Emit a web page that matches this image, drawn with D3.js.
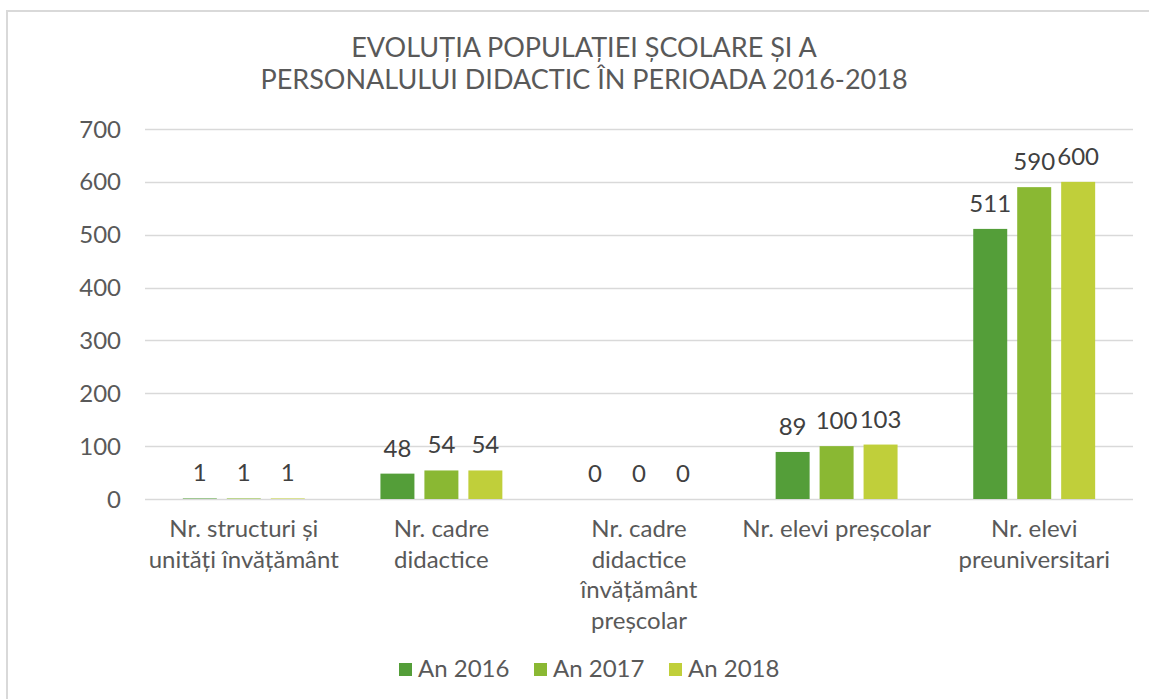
<!DOCTYPE html>
<html><head><meta charset="utf-8">
<script src="https://cdn.jsdelivr.net/npm/d3@7"></script>
<style>
html,body{margin:0;padding:0;background:#fff;}
svg{display:block;font-family:Lato,"Open Sans",sans-serif;}
</style></head>
<body>
<svg id="c" width="1149" height="699"></svg>
<script>
const categories = [
  ["Nr. structuri și","unități învățământ"],
  ["Nr. cadre","didactice"],
  ["Nr. cadre","didactice","învățământ","preșcolar"],
  ["Nr. elevi preșcolar"],
  ["Nr. elevi","preuniversitari"]
];
const seriesNames = ["An 2016","An 2017","An 2018"];
const an2016 = [1, 48, 0, 89, 511];
const an2017 = [1, 54, 0, 100, 590];
const an2018 = [1, 54, 0, 103, 600];
const yTicks = [0,100,200,300,400,500,600,700];
const colors = ["#549E39","#8AB833","#C0CF3A"];
const titleLines = ["EVOLUȚIA POPULAȚIEI ȘCOLARE ȘI A","PERSONALULUI DIDACTIC ÎN PERIOADA 2016-2018"];

(function(){
const series = [an2016, an2017, an2018];
const svg = d3.select("#c");

// border
svg.append("path").attr("d","M7,1200 V11 H1200").attr("fill","none").attr("stroke","#d9d9d9").attr("stroke-width",2);

const pLeft=145, pRight=1133, pTop=129, pBottom=499;
const y = d3.scaleLinear().domain([0,700]).range([pBottom,pTop]);
const x0 = d3.scaleBand().domain(d3.range(categories.length)).range([pLeft,pRight]).padding(0);
const bw = x0.bandwidth();
const barW = bw*0.172, gap = bw*0.0505;
const x1 = d3.scaleBand().domain(d3.range(3)).range([-(1.5*barW+gap), 1.5*barW+gap]).paddingInner(gap/(barW+gap)).paddingOuter(0);

// title
svg.append("text").attr("x",584).attr("y",57).attr("text-anchor","middle")
  .attr("fill","#595959").style("font-size","27px")
  .selectAll("tspan").data(titleLines).join("tspan")
  .attr("x",584).attr("dy",(d,i)=>i?32:0).text(d=>d);

// gridlines
svg.append("g").selectAll("line").data(yTicks).join("line")
  .attr("x1",pLeft).attr("x2",pRight).attr("y1",d=>Math.round(y(d))+0.5).attr("y2",d=>Math.round(y(d))+0.5)
  .attr("stroke","#d9d9d9").attr("stroke-width",1.5);

// y tick labels
svg.append("g").selectAll("text").data(yTicks).join("text")
  .attr("x",121).attr("y",d=>y(d)+8.5).attr("text-anchor","end")
  .attr("fill","#595959").style("font-size","24px").text(d=>d);

// bars
const g = svg.append("g");
categories.forEach((c,ci)=>{
  const cx = x0(ci)+bw/2;
  series.forEach((s,si)=>{
    const v = s[ci];
    const bx = cx + x1(si);
    g.append("rect").attr("x",bx).attr("width",x1.bandwidth())
      .attr("y",y(v)).attr("height",pBottom-y(v)).attr("fill",colors[si]);
    g.append("text").attr("x",bx+x1.bandwidth()/2).attr("y",y(v)-17)
      .attr("text-anchor","middle").attr("fill","#404040").style("font-size","24px").text(v);
  });
  const t = svg.append("text").attr("text-anchor","middle").attr("fill","#595959").style("font-size","24px");
  t.selectAll("tspan").data(c).join("tspan").attr("x",cx).attr("y",(d,i)=>537+i*30.5).text(d=>d);
});

// legend
const legX = [399,534,669];
seriesNames.forEach((n,i)=>{
  svg.append("rect").attr("x",legX[i]).attr("y",663).attr("width",13).attr("height",13).attr("fill",colors[i]);
  svg.append("text").attr("x",legX[i]+19).attr("y",677).attr("fill","#595959").style("font-size","24px").text(n);
});
})();
</script>
</body></html>
